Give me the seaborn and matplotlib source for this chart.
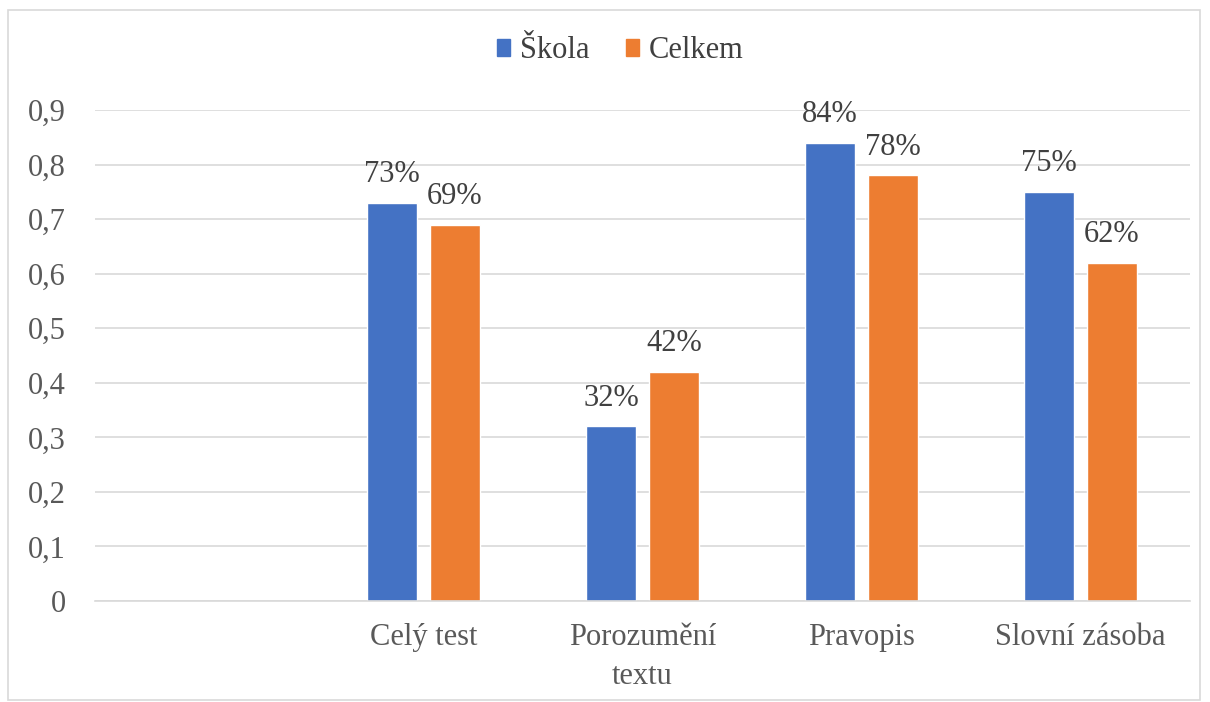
import matplotlib
matplotlib.use("Agg")
import matplotlib.pyplot as plt
import matplotlib.patches as mpatches
import seaborn as sns
import pandas as pd

categories = ["", "Celý test", "Porozumění\ntextu", "Pravopis", "Slovní zásoba"]
data_categories = ["Celý test", "Porozumění\ntextu", "Pravopis", "Slovní zásoba"]
skola = [0.73, 0.32, 0.84, 0.75]
celkem = [0.69, 0.42, 0.78, 0.62]
series = ["Škola", "Celkem"]
yticks = [0, 0.1, 0.2, 0.3, 0.4, 0.5, 0.6, 0.7, 0.8, 0.9]

df = pd.DataFrame({
    "cat": data_categories * 2,
    "val": skola + celkem,
    "ser": [series[0]] * 4 + [series[1]] * 4,
})

sns.set_theme(style="white")
plt.rcParams['font.family'] = ['Liberation Serif', 'DejaVu Serif']

fig = plt.figure(figsize=(12.1, 7.02), dpi=100)
ax = fig.add_axes([95/1210, 1-601/702, (1190-95)/1210, (601-110)/702])

colors = {"Škola": "#4472C4", "Celkem": "#ED7D31"}
sns.barplot(data=df, x="cat", y="val", hue="ser", order=categories,
            hue_order=series, palette=colors, width=0.575, gap=0.21,
            ax=ax, legend=False, saturation=1, errorbar=None)

FS = 22
ax.set_ylim(0, 0.9)
ax.set_xlim(-0.5, len(categories) - 0.5)
ax.set_yticks(yticks)
ax.set_yticklabels([("%g" % t).replace(".", ",") for t in yticks],
                   fontsize=FS, color="#595959")
ax.tick_params(axis='x', labelsize=FS, colors="#595959", length=0, pad=16)
for lab in ax.get_xticklabels():
    lab.set_linespacing(1.45)
ax.tick_params(axis='y', length=0, pad=21)
ax.set_xlabel("")
ax.set_ylabel("")
ax.yaxis.grid(True, color="#D9D9D9", linewidth=1.2)
ax.set_axisbelow(True)
for s in ["top", "right", "left"]:
    ax.spines[s].set_visible(False)
ax.spines["bottom"].set_color("#D9D9D9")
ax.spines["bottom"].set_linewidth(1.2)

for cont in ax.containers:
    labels = ["%d%%" % round(b.get_height() * 100) if b.get_height() > 0 else "" for b in cont]
    ax.bar_label(cont, labels=labels, fontsize=FS, color="#404040", padding=10)

handles = [mpatches.Patch(color=colors[s], label=s) for s in series]
fig.legend(handles=handles, loc="center", bbox_to_anchor=(620/1210, 1-51/702),
           ncol=2, frameon=False, fontsize=FS, handlelength=0.45, handleheight=0.45,
           handletextpad=0.3, columnspacing=1.2, labelcolor="#404040")

fig.add_artist(mpatches.Rectangle((8/1210, 1-700/702), (1200-8)/1210, (700-10)/702,
                                  transform=fig.transFigure, fill=False,
                                  edgecolor="#D9D9D9", linewidth=1.2))

fig.savefig("out.png", dpi=100)
